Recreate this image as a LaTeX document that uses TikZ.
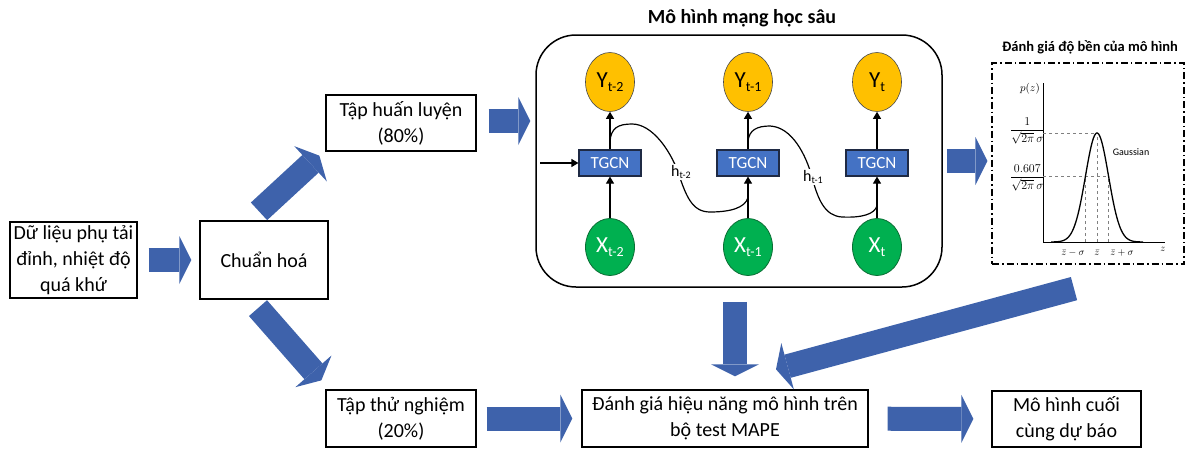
\documentclass[tikz,border=0pt]{standalone}
\usepackage{amsmath}
\usepackage{fontspec}
\setmainfont{Carlito}
\usetikzlibrary{shapes.geometric, arrows.meta, calc}
\definecolor{arrowblue}{HTML}{3E62AB}
\definecolor{cellblue}{HTML}{4472C4}
\definecolor{cellborder}{HTML}{1F2A44}
\definecolor{outyellow}{HTML}{FFC000}
\definecolor{ingreen}{HTML}{00B050}
\definecolor{ingreenborder}{HTML}{0B6E34}
\newcommand{\lowsub}[2][14]{\raisebox{-0.35ex}{\fontsize{#1}{#1}\selectfont #2}}

\begin{document}
\begin{tikzpicture}[x=1pt, y=-1pt,
    box/.style={draw, line width=1.3pt, align=center, inner sep=0pt, font=\fontsize{20}{26}\selectfont},
    bigarrow/.style={draw=arrowblue, line width=24pt, -{Triangle[length=12pt, width=48pt, line width=0pt]}},
    thinarrow/.style={line width=1.2pt, -{Triangle[length=7pt, width=8pt]}},
    cell/.style={draw=cellborder, line width=1.2pt, fill=cellblue, text=white, minimum width=62pt, minimum height=26pt, inner sep=0pt, font=\fontsize{17}{20}\selectfont},
    outnode/.style={ellipse, draw=black!70, line width=0.6pt, fill=outyellow, minimum width=49pt, minimum height=59pt, inner sep=0pt, font=\fontsize{23}{24}\selectfont},
    innode/.style={ellipse, draw=ingreenborder, line width=0.8pt, fill=ingreen, text=white, minimum width=49pt, minimum height=57pt, inner sep=0pt, font=\fontsize{23}{24}\selectfont},
    hlabel/.style={fill=white, inner sep=1pt, font=\fontsize{16}{17}\selectfont},
    plotlabel/.style={inner sep=0.2pt, font=\fontsize{10}{11}\selectfont}]
\useasboundingbox (0,0) rectangle (1191,450);

% pipeline boxes
\node[box, minimum width=127pt, minimum height=76pt] (data) at (73.5,260) {Dữ liệu phụ tải\\đỉnh, nhiệt độ\\quá khứ};
\node[box, minimum width=128pt, minimum height=78pt] (norm) at (264,260) {Chuẩn hoá};
\node[box, minimum width=150pt, minimum height=56pt] (train) at (401,123) {Tập huấn luyện\\(80\%)};
\node[box, minimum width=150pt, minimum height=57pt] (test) at (401,418.5) {Tập thử nghiệm\\(20\%)};
\node[box, minimum width=286pt, minimum height=57pt] (eval) at (725,418.5) {Đánh giá hiệu năng mô hình trên\\bộ test MAPE};
\node[box, minimum width=149pt, minimum height=56pt] (final) at (1066.5,419) {Mô hình cuối\\cùng dự báo};

% deep model
\node[draw, line width=1.5pt, rounded corners=40pt, minimum width=406pt, minimum height=252pt] (dnn) at (739,161) {};
\node[font=\bfseries\fontsize{20}{24}\selectfont] (dnntitle) at (742,18) {Mô hình mạng học sâu};

\foreach \i/\xx/\lab in {1/610/t-2, 2/748/t-1, 3/877/t} {
  \node[outnode] (y\i) at (\xx,82) {Y\lowsub{\lab}};
  \node[cell] (g\i) at (\xx,163) {TGCN};
  \node[innode] (x\i) at (\xx,247) {X\lowsub{\lab}};
  \draw[thinarrow] (x\i) -- (g\i);
  \draw[thinarrow] (g\i) -- (y\i);
}
\coordinate (in) at (540,163);
\draw[thinarrow] (in) -- (g1);

\coordinate (h1a) at ($(g1.north)+(0,-8)$);
\coordinate (h1b) at ($(g2.south)+(0,21)$);
\coordinate (h2a) at ($(g2.north)+(0,-8)$);
\coordinate (h2b) at ($(g3.south)+(0,29)$);
\draw[line width=1.2pt] (h1a) .. controls (611,128) and (618,124) .. (632,124)
  .. controls (652,124) and (670,150) .. (678,172)
  .. controls (686,196) and (692,212) .. (710,212)
  .. controls (730,212) and (745,208) .. (h1b);
\draw[line width=1.2pt] (h2a) .. controls (749,130) and (757,126) .. (770,126)
  .. controls (792,127) and (806,155) .. (812,177)
  .. controls (818,200) and (825,216) .. (842,217)
  .. controls (862,218) and (875,214) .. (h2b);
\node[hlabel] (h1) at (681,172) {h\lowsub[10]{t-2}};
\node[hlabel] (h2) at (813,177) {h\lowsub[10]{t-1}};

% robustness check
\node[draw, line width=1.2pt, dash pattern=on 7pt off 3pt on 1.5pt off 3pt, minimum width=192pt, minimum height=201pt] (gauss) at (1088,163.5) {};
\node[font=\bfseries\fontsize{14.5}{17}\selectfont] (gausstitle) at (1090,47) {Đánh giá độ bền của mô hình};
\draw[line width=0.8pt] (1043,83) -- (1043,242) -- (1165,242);
\draw[gray, dashed, line width=0.5pt] (1043,133) -- (1097,133) (1043,176) -- (1109,176)
  (1085.5,242) -- (1085.5,176) (1097,242) -- (1097,133) (1108.5,242) -- (1108.5,176);
\draw[line width=1.3pt, domain=-46:46, samples=90, smooth] plot ({1097+\x}, {242-109*exp(-(\x*\x)/(2*11.5*11.5))});
\node[plotlabel, font=\fontsize{11}{12}\selectfont] (pz) at (1030,89) {$p(z)$};
\node[plotlabel, anchor=east, font=\fontsize{12}{13}\selectfont] (peak) at (1045,131) {$\displaystyle\frac{1}{\sqrt{2\pi}\,\sigma}$};
\node[plotlabel, anchor=east, font=\fontsize{12}{13}\selectfont] (level) at (1045,178) {$\displaystyle\frac{0.607}{\sqrt{2\pi}\,\sigma}$};
\node[plotlabel] (gname) at (1131,152) {$\mathrm{Gaussian}$};
\node[plotlabel] (zl) at (1073,253) {$\bar z-\sigma$};
\node[plotlabel] (zm) at (1097,253) {$\bar z$};
\node[plotlabel] (zr) at (1122,253) {$\bar z+\sigma$};
\node[plotlabel] (zaxis) at (1163,249) {$z$};

% block arrows
\draw[bigarrow, shorten <=11pt, shorten >=8pt] (data) -- (norm);
\draw[bigarrow] ($(norm.north)+(-5,-9)$) -- ($(train.south west)+(-6,4)$);
\draw[bigarrow] ($(norm.south)+(-6,8.5)$) -- ($(test.north west)+(-4,-9)$);
\draw[bigarrow] ($(train.east)+(12,-2)$) -- ($(train.east -| dnn.west)+(-5,-2)$);
\draw[bigarrow, shorten <=4pt, shorten >=4pt] (dnn.east) -- (dnn.east -| gauss.west);
\draw[bigarrow] ($(dnn.south)+(-4,14)$) -- ($(eval.north)+(10,-13)$);
\draw[bigarrow] ($(gauss.south)+(-14,24)$) -- ($(eval.north)+(51,-20)$);
\draw[bigarrow, shorten <=10pt, shorten >=9pt] (test) -- (eval);
\draw[bigarrow, shorten <=19pt, shorten >=18pt] (eval) -- (final);
\end{tikzpicture}
\end{document}
